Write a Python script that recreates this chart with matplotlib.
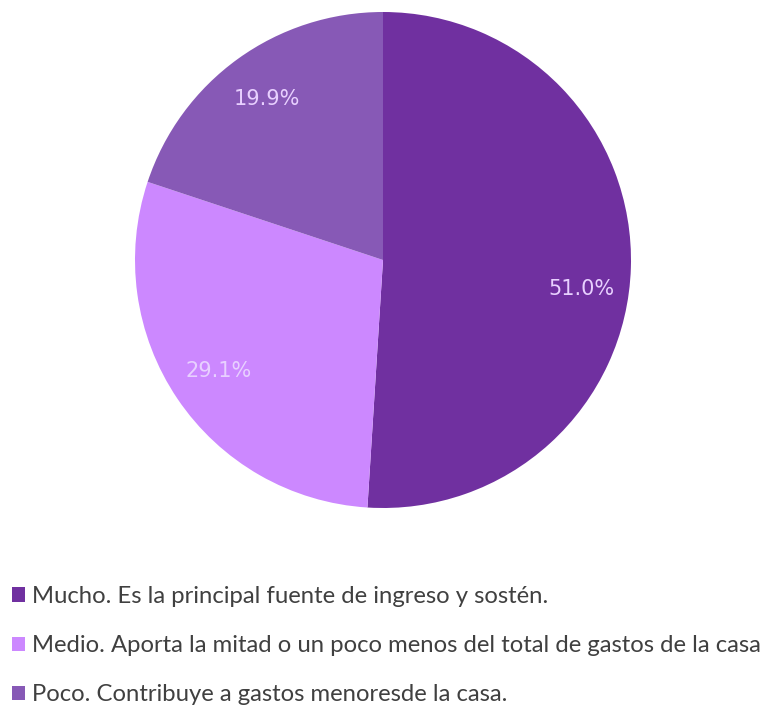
import matplotlib
matplotlib.use("Agg")
import matplotlib.pyplot as plt

# datos
categorias = [
    "Mucho. Es la principal fuente de ingreso y sostén.",
    "Medio. Aporta la mitad o un poco menos del total de gastos de la casa",
    "Poco. Contribuye a gastos menoresde la casa.",
]
valores = [51.0, 29.1, 19.9]
colores = ["#7030A0", "#CC88FF", "#8759B6"]

W, H = 772, 713
fig = plt.figure(figsize=(W / 100, H / 100), dpi=100)

# pie centrado en (383, 260) px desde arriba, radio 248
cx, cy, R = 383, 260, 248
ax = fig.add_axes([(cx - R) / W, (H - cy - R) / H, 2 * R / W, 2 * R / H])
wedges, texts, autotexts = ax.pie(
    valores,
    colors=colores,
    startangle=90,
    counterclock=False,
    autopct="%.1f%%",
    pctdistance=0.8,
    wedgeprops=dict(linewidth=0),
    textprops=dict(color="#E8D0FF", fontsize=15, family="DejaVu Sans"),
)
# la etiqueta del 51% queda algo mas abajo en el original
desplaz = [(0, -0.09), (0, 0), (0, 0)]
for t, (dx, dy) in zip(autotexts, desplaz):
    x, y = t.get_position()
    t.set_position((x + dx, y + dy))
ax.set_xlim(-1, 1)
ax.set_ylim(-1, 1)
ax.set_aspect("equal")

leg = fig.legend(
    wedges,
    categorias,
    loc="upper left",
    bbox_to_anchor=(12 / W, (H - 586) / H),
    frameon=False,
    borderpad=0,
    borderaxespad=0,
    handlelength=0.55,
    handleheight=0.55,
    handletextpad=0.3,
    labelspacing=1.18,
    prop=dict(family="Lato", size=17.2),
)
for t in leg.get_texts():
    t.set_color("#404040")

fig.savefig("out.png", dpi=100)
